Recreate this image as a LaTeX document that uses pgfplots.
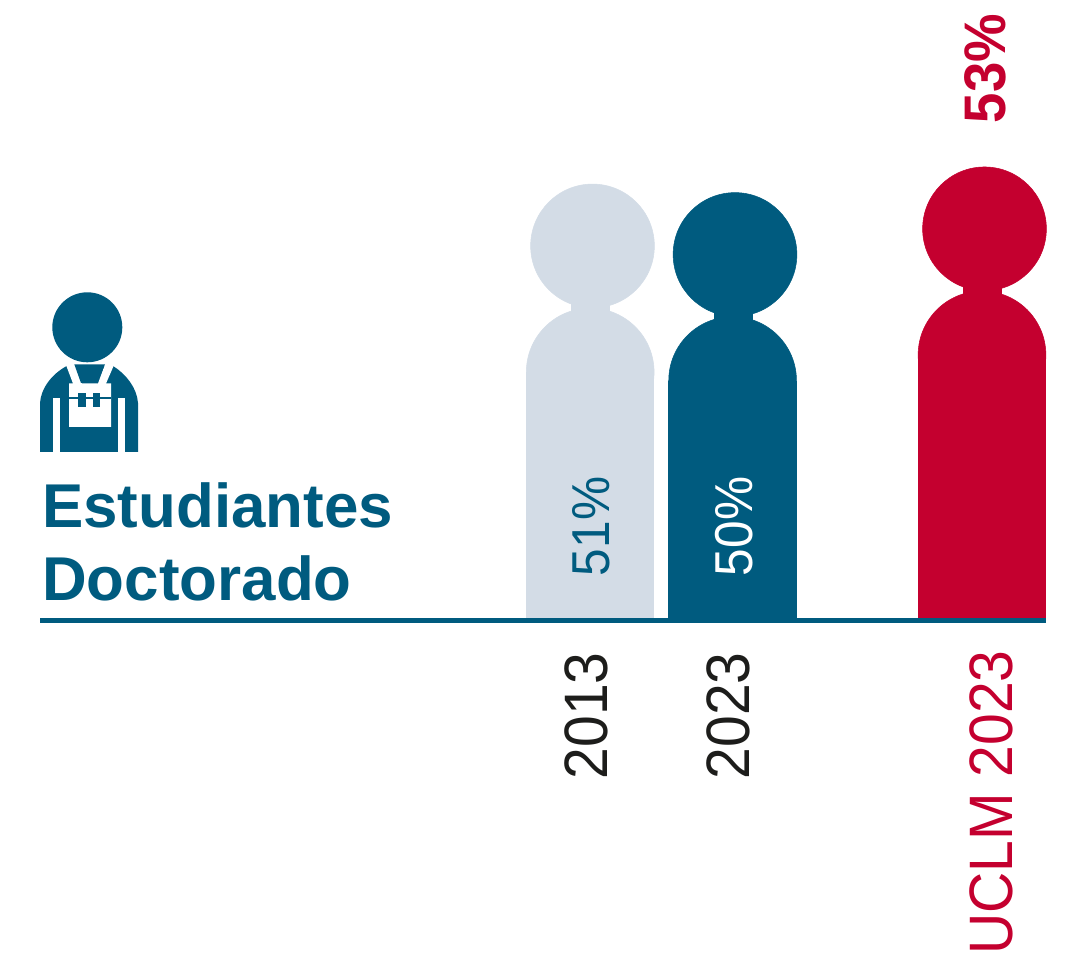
\documentclass[border=0pt]{standalone}
\usepackage{fontspec}
\usepackage{pgfplots}
\pgfplotsset{compat=1.18}
\setmainfont{Liberation Sans}
\newfontfamily\numfont[FakeStretch=0.93]{Liberation Sans}
\definecolor{cBlue}{HTML}{005B7F}
\definecolor{cGrey}{HTML}{D3DCE6}
\definecolor{cRed}{HTML}{C4002F}
\definecolor{cInk}{HTML}{1D1D1B}
% 1 px = 0.75pt, y axis in percent (1% = 8.55 px), x axis in reference pixels
\begin{document}
\begin{tikzpicture}
\path[use as bounding box] (0pt,0pt) rectangle (799.5pt,717.75pt);
\begin{axis}[
    at={(0pt,0pt)}, anchor=south west,
    scale only axis, width=799.5pt, height=717.75pt,
    xmin=0, xmax=1066, ymin=-39.415, ymax=72.515,
    hide axis, clip=false,
]
% 2013: value 51
\addplot[ybar, bar width=96.4pt, bar shift=0pt, fill=cGrey, draw=none] coordinates {(590.2,29)};
\addplot[ybar, bar width=29.25pt, bar shift=0pt, fill=cGrey, draw=none] coordinates {(590.5,43.75)};
\addplot[only marks, mark=*, mark size=47.9pt, color=cGrey, mark options={draw=none}] coordinates {(590.2,29)};
\addplot[only marks, mark=*, mark size=46.4pt, color=cGrey, mark options={draw=none}] coordinates {(592.5,43.75)};
% 2023: value 50
\addplot[ybar, bar width=96.4pt, bar shift=0pt, fill=cBlue, draw=none] coordinates {(732.6,28)};
\addplot[ybar, bar width=29.25pt, bar shift=0pt, fill=cBlue, draw=none] coordinates {(733,42.75)};
\addplot[only marks, mark=*, mark size=47.9pt, color=cBlue, mark options={draw=none}] coordinates {(732.6,28)};
\addplot[only marks, mark=*, mark size=46.4pt, color=cBlue, mark options={draw=none}] coordinates {(735,42.75)};
% UCLM 2023: value 53
\addplot[ybar, bar width=96.4pt, bar shift=0pt, fill=cRed, draw=none] coordinates {(982,31)};
\addplot[ybar, bar width=29.25pt, bar shift=0pt, fill=cRed, draw=none] coordinates {(982.5,45.75)};
\addplot[only marks, mark=*, mark size=47.9pt, color=cRed, mark options={draw=none}] coordinates {(982,31)};
\addplot[only marks, mark=*, mark size=46.4pt, color=cRed, mark options={draw=none}] coordinates {(984.5,45.75)};
% baseline
\addplot[cBlue, line width=4pt] coordinates {(40,-0.08) (1046,-0.08)};
% labels
\node[rotate=90, text=cBlue, font=\fontsize{40pt}{40pt}\numfont] at (axis cs:591.5,10.95) {51\%};
\node[rotate=90, text=white, font=\fontsize{40pt}{40pt}\numfont] at (axis cs:734.5,10.95) {50\%};
\node[rotate=90, text=cRed, font=\fontsize{44pt}{44pt}\numfont\bfseries] at (axis cs:985.5,64.5) {53\%};
\node[rotate=90, text=cInk, font=\fontsize{46pt}{46pt}\numfont] at (axis cs:586,-11.2) {2013};
\node[rotate=90, text=cInk, font=\fontsize{46pt}{46pt}\numfont] at (axis cs:728,-11.2) {2023};
\node[rotate=90, text=cRed, font=\fontsize{46pt}{46pt}\numfont] at (axis cs:991,-21.35) {UCLM 2023};
\end{axis}
% icon and title, in reference pixels
\begin{scope}[shift={(0pt,717.75pt)}, x=0.75pt, y=-0.75pt]
\fill[cBlue] (40,452) -- (40,403) .. controls (41,388) and (52,374) .. (66.7,366) -- (113,366) .. controls (126,374) and (137,388) .. (138,403) -- (138,452) -- cycle;
\fill[white] (53.3,397.7) rectangle (60,452);
\fill[white] (118.3,397.7) rectangle (125.3,452);
\fill[white] (66,365) -- (74.5,363) -- (82,383.5) -- (98,383.5) -- (105.5,363) -- (114,365) -- (106,383.5) -- (111,383.5) -- (111,427) -- (69,427) -- (69,383.5) -- (73,383.5) -- cycle;
\fill[cBlue] (74.3,364.3) -- (105,364.3) -- (97,383) -- (81,383) -- cycle;
\fill[cBlue] (87.3,327.3) circle[radius=35];
\fill[cBlue] (78.3,392.7) rectangle (85.7,407.5);
\fill[cBlue] (93,392.7) rectangle (100,407.5);
\fill[cBlue] (69,397.5) rectangle (111,399.5);
\node[anchor=base west, inner sep=0pt, text=cBlue, font=\fontsize{46.4pt}{46.4pt}\bfseries] at (42,528) {Estudiantes};
\node[anchor=base west, inner sep=0pt, text=cBlue, font=\fontsize{46.4pt}{46.4pt}\bfseries] at (42,601) {Doctorado};
\end{scope}
\end{tikzpicture}
\end{document}
